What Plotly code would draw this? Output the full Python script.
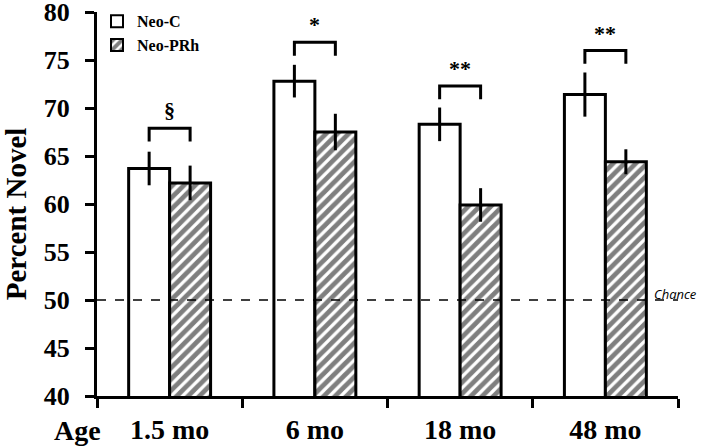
import plotly.graph_objects as go

categories = ["1.5 mo", "6 mo", "18 mo", "48 mo"]
neo_c = [63.7, 72.8, 68.3, 71.4]
neo_c_err = [1.75, 1.7, 1.75, 2.3]
neo_prh = [62.2, 67.5, 59.9, 64.4]
neo_prh_err = [1.8, 1.9, 1.75, 1.3]
sig_labels = ["§", "*", "**", "**"]
bracket_top = [67.9, 76.85, 72.3, 76.0]
bracket_leg = 1.4
chance_level = 50
y_ticks = [40, 45, 50, 55, 60, 65, 70, 75, 80]

SERIF = "Liberation Serif"
BARGAP = 0.436
half = (1 - BARGAP) / 4

fig = go.Figure()
fig.add_trace(go.Bar(
    name="<b>Neo-C</b>", x=categories, y=neo_c,
    marker=dict(color="white", line=dict(color="black", width=3)),
    error_y=dict(type="data", array=neo_c_err, visible=True, color="black", thickness=3, width=0),
))
fig.add_trace(go.Bar(
    name="<b>Neo-PRh</b>", x=categories, y=neo_prh,
    marker=dict(color="white", line=dict(color="black", width=3),
                pattern=dict(shape="/", fgcolor="black", bgcolor="white", size=8, solidity=0.6)),
    error_y=dict(type="data", array=neo_prh_err, visible=True, color="black", thickness=3, width=0),
))

shapes = []
annotations = []
# chance line
shapes.append(dict(type="line", xref="paper", x0=0, x1=1.0, yref="y", y0=chance_level, y1=chance_level,
                   line=dict(color="black", width=1.5, dash="dash"), layer="above"))
annotations.append(dict(text="Chance", xref="paper", x=0.955, xanchor="left", yref="y", y=chance_level,
                        yanchor="bottom", yshift=-5, showarrow=False,
                        font=dict(family="Open Sans", size=13, color="black", style="italic")))
# significance brackets
for i, (lab, top) in enumerate(zip(sig_labels, bracket_top)):
    x0, x1 = i - half, i + half
    shapes.append(dict(type="path", xref="x", yref="y",
                       path=f"M {x0},{top - bracket_leg} L {x0},{top} L {x1},{top} L {x1},{top - bracket_leg}",
                       line=dict(color="black", width=3)))
    annotations.append(dict(text=f"<b>{lab}</b>", xref="x", x=i, yref="y", y=top + 0.3, yanchor="bottom",
                            showarrow=False, font=dict(family=SERIF, size=22, color="black")))

annotations.append(dict(text="<b>Percent Novel</b>", xref="paper", x=-0.139, xanchor="center",
                        yref="paper", y=0.474, yanchor="middle",
                        textangle=-90, showarrow=False, font=dict(family=SERIF, size=29, color="black")))
annotations.append(dict(text="<b>Age</b>", xref="paper", x=-0.033, xanchor="center", yref="paper", y=0,
                        yanchor="top", yshift=-17, showarrow=False,
                        font=dict(family=SERIF, size=28, color="black")))

fig.update_layout(
    width=708, height=446,
    margin=dict(l=97, r=30, t=12, b=50, autoexpand=False),
    plot_bgcolor="white", paper_bgcolor="white",
    barmode="group", bargap=BARGAP, bargroupgap=0,
    showlegend=True,
    legend=dict(x=0.0, y=1.02, xanchor="left", yanchor="top", bgcolor="rgba(0,0,0,0)",
                font=dict(family=SERIF, size=16, color="black"), tracegroupgap=0,
                itemsizing="constant"),
    shapes=shapes, annotations=annotations,
)
fig.update_xaxes(type="category", range=[-0.5, 3.5], showline=True, linecolor="black", linewidth=3,
                 ticks="outside", tickson="boundaries", ticklen=9, tickwidth=3, tickcolor="black",
                 showgrid=False, ticklabelstandoff=6, automargin=False,
                 tickfont=dict(family=SERIF, size=28, color="black"),
                 tickvals=categories, ticktext=[f"<b>{c}</b>" for c in categories])
fig.update_yaxes(range=[40, 80.001], tickvals=y_ticks, ticktext=[f"<b>{v}</b>" for v in y_ticks],
                 showline=True, linecolor="black", linewidth=3,
                 ticks="outside", ticklen=9, tickwidth=3, tickcolor="black", showgrid=False,
                 zeroline=False, ticklabelstandoff=10, automargin=False, ticklabeloverflow="allow",
                 tickfont=dict(family=SERIF, size=26, color="black"))

fig.write_html("out.html", config={"displayModeBar": False},
               post_script="document.body.style.margin='0px';")
